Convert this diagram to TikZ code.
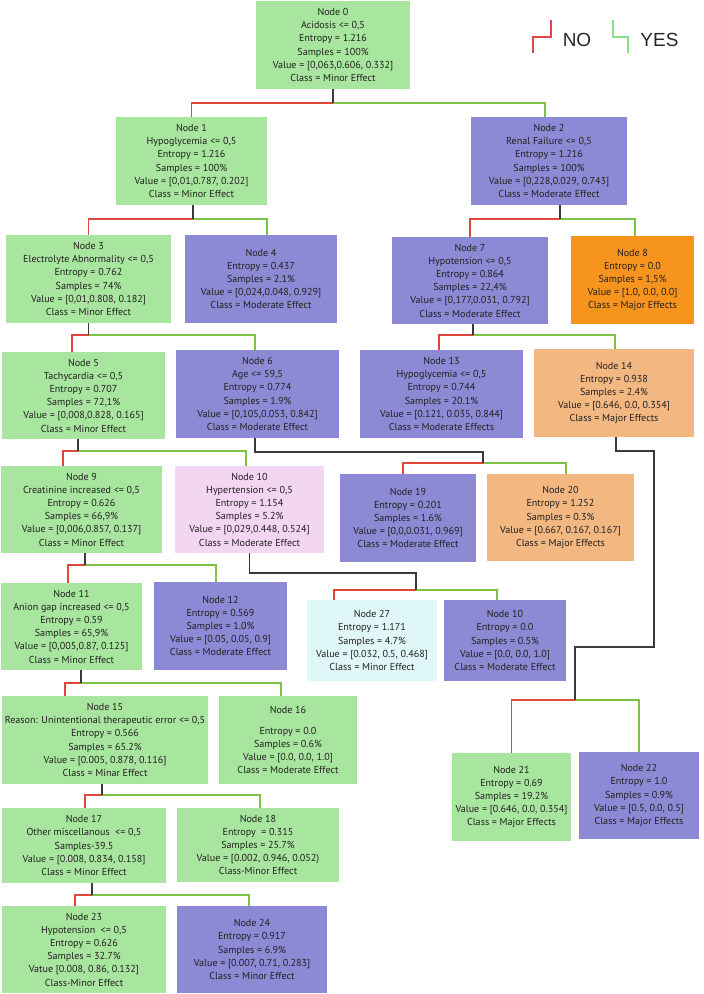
\documentclass[tikz,border=0pt]{standalone}
\usepackage{fontspec}
\setmainfont{PT Sans}
\newfontfamily\legendfont{Liberation Sans}
\definecolor{cgreen}{HTML}{A8E6A0}
\definecolor{cpurple}{HTML}{8C8AD4}
\definecolor{corange}{HTML}{F7941E}
\definecolor{clorange}{HTML}{F3B882}
\definecolor{cpink}{HTML}{F2D6F2}
\definecolor{ccyan}{HTML}{E0F7F8}
\definecolor{redl}{HTML}{E0473C}
\definecolor{greenl}{HTML}{7DC242}
\definecolor{stemc}{HTML}{3A3A3A}
\definecolor{legred}{HTML}{E04848}
\definecolor{leggreen}{HTML}{88E088}
\definecolor{txt}{HTML}{231F20}
\newcommand{\splitat}[5]{%
  \path #2 coordinate (#1-s);
  \draw[nobr] (#1-s |- 0,#3) -| #4;
  \draw[yesbr] (#1-s |- 0,#3) -| #5;
  \draw[stem] (#1-s) -- (#1-s |- 0,#3) coordinate (#1-b);
}
\begin{document}
\begin{tikzpicture}[x=1pt,y=-1pt,
  box/.style={draw=none, inner sep=0pt, align=center, text=txt,
    font=\fontsize{10.1}{13.2}\selectfont},
  dims/.style 2 args={minimum width=#1pt, minimum height=#2pt},
  gbox/.style={box, fill=cgreen},
  pbox/.style={box, fill=cpurple},
  obox/.style={box, fill=corange},
  lobox/.style={box, fill=clorange},
  pkbox/.style={box, fill=cpink},
  cybox/.style={box, fill=ccyan},
  stem/.style={color=stemc, line width=1.2pt},
  nobr/.style={color=redl, line width=1.2pt},
  yesbr/.style={color=greenl, line width=1.2pt},
  legtext/.style={inner sep=0pt, text=black!85, font=\legendfont\fontsize{19}{22}\selectfont},
  legline/.style={line width=1.2pt}]
\useasboundingbox (0,0) rectangle (704,994);

% legend
\draw[legline, color=legred] (533,53) -- (533,37) -- (551,37) -- (551,20);
\node[legtext] (legno) at (577,40) {NO};
\draw[legline, color=leggreen] (613,20) -- (613,37) -- (628,37) -- (628,53);
\node[legtext] (legyes) at (659.5,40) {YES};

% nodes
\node[gbox, dims={154}{88}] (n0) at (333,45) {Node 0\\Acidosis <= 0,5\\Entropy = 1.216\\Samples = 100\%\\Value = [0,063,0.606, 0.332]\\Class = Minor Effect};
\node[gbox, dims={151}{88}] (n1) at (191.5,161) {Node 1\\Hypoglycemia <= 0,5\\Entropy = 1.216\\Samples = 100\%\\Value = [0,01,0.787, 0.202]\\Class = Minor Effect};
\node[pbox, dims={156}{88}] (n2) at (549,161) {Node 2\\Renal Failure <= 0,5\\Entropy = 1.216\\Samples = 100\%\\Value = [0,228,0.029, 0.743]\\Class = Moderate Effect};
\node[gbox, dims={165}{88}] (n3) at (88.5,279) {Node 3\\Electrolyte Abnormality <= 0,5\\Entropy = 0.762\\Samples = 74\%\\Value = [0,01,0.808, 0.182]\\Class = Minor Effect};
\node[pbox, dims={152}{88}] (n4) at (261,279) {Node 4\\Entropy = 0.437\\Samples = 2.1\%\\Value = [0,024,0.048, 0.929]\\Class = Moderate Effect};
\node[pbox, dims={156}{87}] (n7) at (470,280.5) {Node 7\\Hypotension <= 0,5\\Entropy = 0.864\\Samples = 22,4\%\\Value = [0,177,0.031, 0.792]\\Class = Moderate Effect};
\node[obox, dims={123}{88}] (n8) at (632.5,280) {Node 8\\Entropy = 0.0\\Samples = 1,5\%\\Value = [1.0, 0.0, 0.0]\\Class = Major Effects};
\node[gbox, dims={163}{87}] (n5) at (83.5,395.5) {Node 5\\Tachycardia <= 0,5\\Entropy = 0.707\\Samples = 72,1\%\\Value = [0,008,0.828, 0.165]\\Class = Minor Effect};
\node[pbox, dims={163}{88}] (n6) at (257.5,394) {Node 6\\Age <= 59,5\\Entropy = 0.774\\Samples = 1.9\%\\Value = [0,105,0.053, 0.842]\\Class = Moderate Effect};
\node[pbox, dims={163}{88}] (n13) at (441.5,394) {Node 13\\Hypoglycemia <= 0,5\\Entropy = 0.744\\Samples = 20.1\%\\Value = [0.121, 0.035, 0.844]\\Class = Moderate Effects};
\node[lobox, dims={160}{88}] (n14) at (614,393) {Node 14\\Entropy = 0.938\\Samples = 2.4\%\\Value = [0.646, 0.0, 0.354]\\Class = Major Effects};
\node[gbox, dims={161}{87}] (n9) at (81.5,509.5) {Node 9\\Creatinine increased <= 0,5\\Entropy = 0.626\\Samples = 66,9\%\\Value = [0,006,0.857, 0.137]\\Class = Minor Effect};
\node[pkbox, dims={149}{87}] (n10) at (249.5,509.5) {Node 10\\Hypertension <= 0,5\\Entropy = 1.154\\Samples = 5.2\%\\Value = [0,029,0.448, 0.524]\\Class = Moderate Effect};
\node[pbox, dims={136}{88}] (n19) at (408,518) {Node 19\\Entropy = 0.201\\Samples = 1.6\%\\Value = [0,0,0.031, 0.969]\\Class = Moderate Effect};
\node[lobox, dims={147}{87}] (n20) at (560.5,517.5) {Node 20\\Entropy = 1.252\\Samples = 0.3\%\\Value = [0.667, 0.167, 0.167]\\Class = Major Effects};
\node[gbox, dims={141}{87}] (n11) at (71.5,626.5) {Node 11\\Anion gap increased <= 0,5\\Entropy = 0.59\\Samples = 65,9\%\\Value = [0,005,0.87, 0.125]\\Class = Minor Effect};
\node[pbox, dims={133}{88}] (n12) at (220.5,626) {Node 12\\Entropy = 0.569\\Samples = 1.0\%\\Value = [0.05, 0.05, 0.9]\\Class = Moderate Effect};
\node[cybox, dims={130}{81}] (n27) at (372,640.5) {Node 27\\Entropy = 1.171\\Samples = 4.7\%\\Value = [0.032, 0.5, 0.468]\\Class = Minor Effect};
\node[pbox, dims={122}{81}] (n10b) at (505,640.5) {Node 10\\Entropy = 0.0\\Samples = 0.5\%\\Value = [0.0, 0.0, 1.0]\\Class = Moderate Effect};
\node[gbox, dims={206}{88}] (n15) at (105,740) {Node 15\\Reason: Unintentional therapeutic error <= 0,5\\Entropy = 0.566\\Samples = 65.2\%\\Value = [0.005, 0.878, 0.116]\\Class = Minar Effect};
\node[gbox, dims={138}{88}] (n16) at (288,740) {Node 16\\[8pt]Entropy = 0.0\\Samples = 0.6\%\\Value = [0.0, 0.0, 1.0]\\Class = Moderate Effect};
\node[gbox, dims={119}{88}] (n21) at (511.5,797) {Node 21\\Entropy = 0.69\\Samples = 19.2\%\\Value = [0.646, 0.0, 0.354]\\Class = Major Effects};
\node[pbox, dims={120}{87}] (n22) at (639,795.5) {Node 22\\Entropy = 1.0\\Samples = 0.9\%\\Value = [0.5, 0.0, 0.5]\\Class = Major Effects};
\node[gbox, dims={164}{75}] (n17) at (84,845.5) {Node 17\\Other miscellanous~ <= 0,5\\Samples-39.5\\Value = [0.008, 0.834, 0.158]\\Class = Minor Effect};
\node[gbox, dims={162}{74}] (n18) at (258,845) {Node 18\\Entropy~ = 0.315\\Samples = 25.7\%\\Value = [0.002, 0.946, 0.052)\\Class-Minor Effect};
\node[gbox, dims={164}{87}] (n23) at (84,949.5) {Node 23\\Hypotension~ <= 0,5\\Entropy = 0.626\\Samples = 32.7\%\\Vatue [0.008, 0.86, 0.132]\\Class-Minor Effect};
\node[pbox, dims={150}{87}] (n24) at (252,949.5) {Node 24\\Entropy = 0.917\\Samples = 6.9\%\\Value = [0.007, 0.71, 0.283]\\Class = Minor Effect};

% connectors
\splitat{c0}{(n0.south)}{103}{(n1.north)}{([xshift=-4pt]n2.north)}
\splitat{c1}{([xshift=1.5pt]n1.south)}{219}{(n3.north)}{([xshift=6pt]n4.north)}
\splitat{c2}{([xshift=11pt]n2.south)}{219}{(n7.north)}{([xshift=2.5pt]n8.north)}
\splitat{c3}{(n3.south)}{335}{([xshift=-11.5pt]n5.north)}{([xshift=-2.5pt]n6.north)}
\splitat{c7}{([xshift=3pt]n7.south)}{335}{([xshift=-2.5pt]n13.north)}{([xshift=1pt]n14.north)}
\splitat{c5}{([xshift=-5.5pt]n5.south)}{451}{([xshift=-18.5pt]n9.north)}{([xshift=-3.5pt]n10.north)}
\splitat{c9}{([xshift=3.5pt]n9.south)}{565}{([xshift=-3.5pt]n11.north)}{([xshift=-4.5pt]n12.north)}
\splitat{c11}{([xshift=9.5pt]n11.south)}{683}{([xshift=-40pt]n15.north)}{([xshift=-7pt]n16.north)}
\splitat{c15}{([xshift=-3pt]n15.south)}{795}{([xshift=1pt]n17.north)}{([xshift=2pt]n18.north)}
\splitat{c17}{([xshift=8pt]n17.south)}{895}{([xshift=-9pt]n23.north)}{([xshift=-3pt]n24.north)}

% node 6 -> 19 / 20
\draw[nobr] (483,463) -| ([xshift=-5pt]n19.north);
\draw[yesbr] (483,463) -| ([xshift=5.5pt]n20.north);
\draw[stem] ([xshift=-2.5pt]n6.south) |- (483,452) -- (483,463) coordinate (c6-b);

% node 10 -> 27 / 10b
\draw[nobr] (416,590) -| ([xshift=-38pt]n27.north);
\draw[yesbr] (416,590) -| ([xshift=-8pt]n10b.north);
\draw[stem] (n10.south) |- (416,573) -- (416,590) coordinate (c10-b);

% node 14 -> 21 / 22
\draw[nobr] (575,700) -| (n21.north);
\draw[yesbr] (575,700) -| (n22.north);
\draw[stem] ([xshift=2pt]n14.south) |- (654,451) -- (654,647) -- (575,647) -- (575,700) coordinate (c14-b);
\end{tikzpicture}
\end{document}
